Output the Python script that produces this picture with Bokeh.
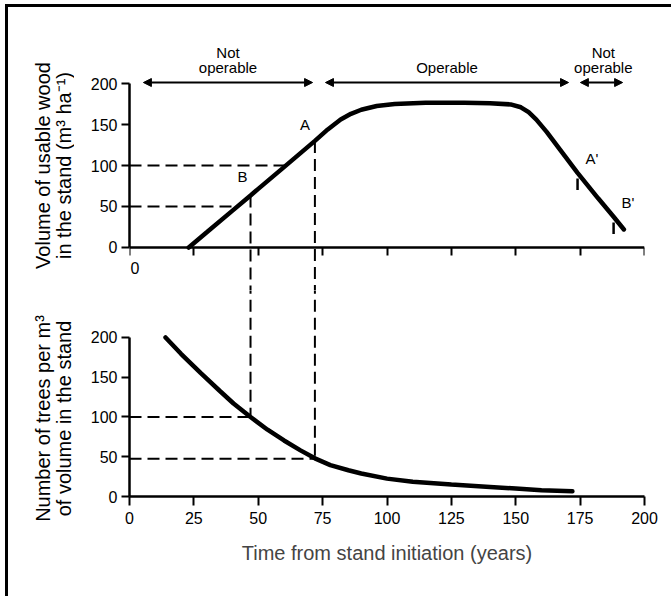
import numpy as np
from bokeh.plotting import figure
from bokeh.layouts import column, row
from bokeh.models import (LinearAxis, FixedTicker, Label, Arrow, NormalHead,
                          ColumnDataSource, Range1d)
from bokeh.embed import file_html
from bokeh.resources import INLINE

FONT = "Liberation Sans"

# ---------------- data ----------------
# upper panel: volume of usable wood (m3/ha) vs time (years)
years_top = [23, 30, 40, 47, 50, 60, 72, 77, 82, 86, 90, 96, 103, 115, 130, 140,
             148, 152, 155, 158, 162, 168, 174, 182, 188, 192]
vol_top = [0, 18.5, 45, 63.5, 71.5, 98, 130, 144, 156, 163, 168, 172.5, 175, 176.5,
           176.5, 176, 174.5, 171, 165, 156, 141, 116, 91, 60, 37.5, 22]

# lower panel: number of trees per m3 of volume vs time (years)
years_bot = [14, 20, 27.6, 35, 40.4, 47, 53.6, 60, 66.4, 72, 78, 85, 90, 100,
             110, 125, 140, 150, 160, 172]
trees_bot = [200, 179.5, 155.5, 133, 117, 100, 84, 70.5, 58, 48, 39.5, 33, 29, 22.5,
             18.5, 15, 12, 10, 8, 6.5]

x_ticks = [0, 25, 50, 75, 100, 125, 150, 175, 200]
y_ticks = [0, 50, 100, 150, 200]

# reference points
pt_names = ["A", "B", "A'", "B'"]
pt_t = [72, 47, 174, 188]
pt_vol = [130, 63.5, 91, 37.5]
trees_at_A = 47.5
trees_at_B = 100
vol_levels = [50, 100]

# operability zones
zone_label_top = ["Not", "", "Not"]
zone_label_bottom = ["operable", "Operable", "operable"]
zone_start = [5.4, 76.1, 175.1]
zone_end = [71.1, 170.5, 191.5]

# axis titles
top_title = ["Volume of usable wood", "in the stand (m\u00b3 ha\u207b\u00b9)"]
bot_title = ["Number of trees per m\u00b3", "of volume in the stand"]

# ---------------- helpers ----------------
MAIN_W = 597
LINE_W = 4.5
DASH = "12 6"
X_RANGE = (0, 200)


def style_axis(ax, tick_out=8, tick_in=0):
    ax.axis_line_width = 2.5
    ax.axis_line_color = "black"
    ax.major_tick_line_width = 2
    ax.major_tick_line_color = "black"
    ax.major_tick_out = tick_out
    ax.major_tick_in = tick_in
    ax.minor_tick_line_color = None
    ax.major_label_text_font = FONT
    ax.major_label_text_font_size = "16px"
    ax.major_label_text_color = "black"
    ax.major_label_standoff = 4


def base_fig(height, y_range, top, bottom, xloc):
    p = figure(width=MAIN_W, height=height, x_range=Range1d(*X_RANGE),
               y_range=Range1d(*y_range), output_backend="svg", toolbar_location=None,
               x_axis_location=xloc, min_border_left=55, min_border_right=27,
               min_border_top=top, min_border_bottom=bottom)
    p.xgrid.visible = False
    p.ygrid.visible = False
    p.outline_line_color = None
    p.background_fill_color = "white"
    p.border_fill_color = "white"
    return p


def add_text(p, x, y, txt, align="center", baseline="middle", xo=0, yo=0, size="15px"):
    p.add_layout(Label(x=x, y=y, text=txt, x_offset=xo, y_offset=yo, text_align=align,
                       text_baseline=baseline, text_font=FONT, text_font_size=size,
                       text_color="black"))


# ---------------- upper panel ----------------
p_top = base_fig(283, (-52.44, 252.44), 33, 0, None)
ya = p_top.yaxis[0]
style_axis(ya)
ya.ticker = FixedTicker(ticks=y_ticks)
ya.bounds = (0, 200)

# time axis of the upper panel, placed at volume = 0
top_x = LinearAxis(ticker=FixedTicker(ticks=x_ticks), fixed_location=0, bounds=(0, 200))
style_axis(top_x, tick_out=0, tick_in=8)
top_x.major_label_overrides = {t: "" for t in x_ticks}
p_top.add_layout(top_x, "above")
add_text(p_top, 0, -25.6, "0", align="left", xo=1, size="16px")

rise_t = years_top[:7]
rise_v = vol_top[:7]
for lvl in vol_levels:
    t_end = float(np.interp(lvl, rise_v, rise_t))
    p_top.line([0, t_end], [lvl, lvl], line_color="black", line_width=2, line_dash=DASH)

# vertical dashed lines from A and B down to the lower panel
for t, v in zip(pt_t[:2], pt_vol[:2]):
    p_top.line([t, t], [v, -70], line_color="black", line_width=2, line_dash=DASH)

# short marks below A' and B'
for t, v in zip(pt_t[2:], pt_vol[2:]):
    p_top.line([t, t], [v - 7, v - 21], line_color="black", line_width=2.5)

p_top.line(years_top, vol_top, line_color="black", line_width=LINE_W, line_cap="round")

# point labels
label_offsets = [(-5, 8, "right"), (-3, 10, "right"), (8, 6, "left"), (8, 6, "left")]
for name, t, v, (xo, yo, al) in zip(pt_names, pt_t, pt_vol, label_offsets):
    add_text(p_top, t, v, name, align=al, baseline="bottom", xo=xo, yo=yo)

# operability arrows
arr_src = ColumnDataSource(dict(x0=zone_start, x1=zone_end, y=[201.2] * 3))
p_top.add_layout(Arrow(start=NormalHead(size=8, fill_color="black", line_color="black"),
                       end=NormalHead(size=8, fill_color="black", line_color="black"),
                       x_start="x0", y_start="y", x_end="x1", y_end="y", source=arr_src,
                       line_width=2, line_color="black"))
zone_mid = [(a + b) / 2 for a, b in zip(zone_start, zone_end)]
zone_mid[2] = 184
for xm, t1, t2 in zip(zone_mid, zone_label_top, zone_label_bottom):
    if t1:
        add_text(p_top, xm, 237.5, t1)
    add_text(p_top, xm, 220, t2)

# ---------------- lower panel ----------------
p_bot = base_fig(306, (0, 259.1), 0, 100, "below")
xa = p_bot.xaxis[0]
style_axis(xa, tick_out=9)
xa.ticker = FixedTicker(ticks=x_ticks)
xa.bounds = (0, 200)
xa.major_label_standoff = 6
xa.axis_label = "Time from stand initiation (years)"
xa.axis_label_text_font = FONT
xa.axis_label_text_font_size = "20px"
xa.axis_label_text_font_style = "normal"
xa.axis_label_standoff = 15

yb = p_bot.yaxis[0]
style_axis(yb)
yb.ticker = FixedTicker(ticks=y_ticks)
yb.bounds = (0, 200)

p_bot.line([0, pt_t[1]], [trees_at_B, trees_at_B], line_color="black", line_width=2, line_dash=DASH)
p_bot.line([0, pt_t[0]], [trees_at_A, trees_at_A], line_color="black", line_width=2, line_dash=DASH)
p_bot.line([pt_t[1], pt_t[1]], [270, trees_at_B], line_color="black", line_width=2, line_dash=DASH)
p_bot.line([pt_t[0], pt_t[0]], [270, trees_at_A], line_color="black", line_width=2, line_dash=DASH)

p_bot.line(years_bot, trees_bot, line_color="black", line_width=LINE_W, line_cap="round")

# ---------------- axis titles (left strip) ----------------
p_left = figure(width=66, height=589, x_range=Range1d(0, 66), y_range=Range1d(0, 589),
                output_backend="svg", toolbar_location=None, x_axis_location=None,
                y_axis_location=None, min_border=0)
p_left.xgrid.visible = False
p_left.ygrid.visible = False
p_left.outline_line_color = None
for (ytitle, yc) in [(top_title, 431), (bot_title, 178)]:
    for txt, xc in zip(ytitle, [34, 55]):
        p_left.add_layout(Label(x=xc, y=yc, text=txt, angle=np.pi / 2, text_align="center",
                                text_baseline="middle", text_font=FONT,
                                text_font_size="20px", text_color="black"))

layout = row(p_left, column(p_top, p_bot), margin=(4, 0, 0, 5),
             styles={"border-top": "3px solid black", "border-left": "3px solid black"})

open("out.html", "w").write(file_html(layout, INLINE))
